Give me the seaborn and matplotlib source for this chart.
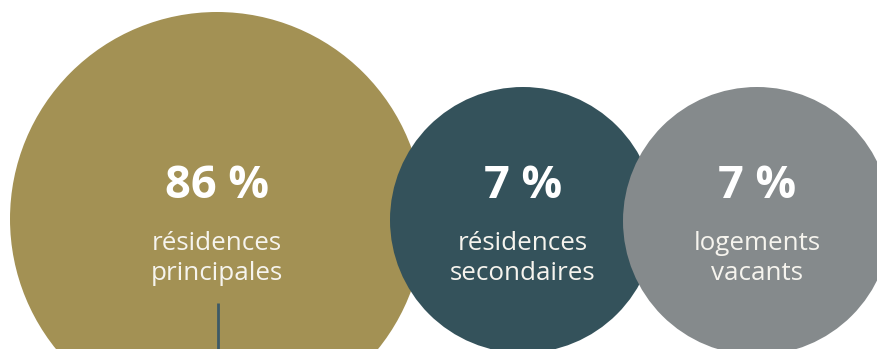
import matplotlib
matplotlib.use("Agg")
import matplotlib.pyplot as plt
from matplotlib.patches import Circle
import seaborn as sns

# Housing stock breakdown
shares = [86, 7, 7]
label_top = ["résidences", "résidences", "logements"]
label_bottom = ["principales", "secondaires", "vacants"]
colors = ["#A39154", "#34525B", "#858A8C"]

sns.set_theme(style="white")
plt.rcParams["font.family"] = ["Open Sans", "DejaVu Sans"]

W, H = 877, 349
fig = plt.figure(figsize=(W / 100, H / 100), dpi=100)
ax = fig.add_axes([0, 0, 1, 1])
ax.set_xlim(0, W)
ax.set_ylim(H, 0)
ax.set_axis_off()

# bubble layout (pixel units): centre x, centre y, radius
layout = [(217, 219, 207), (523, 220, 133), (757, 221, 134)]

for (cx, cy, r), share, top, bottom, col in zip(layout, shares, label_top,
                                                 label_bottom, colors):
    ax.add_patch(Circle((cx, cy), r, facecolor=col, edgecolor="none"))
    ax.text(cx, 198, f"{share} %", ha="center", va="baseline",
            color="white", fontsize=32.5, fontweight="bold")
    ax.text(cx, 250, top, ha="center", va="baseline", color="#F6F4EE",
            fontsize=18.7)
    ax.text(cx, 280, bottom, ha="center", va="baseline", color="#F6F4EE",
            fontsize=18.7)

# connector stub below the first bubble's label
ax.plot([218, 218], [303, H], color="#3D5A66", lw=2, solid_capstyle="butt")

fig.savefig("out.png", dpi=100)
